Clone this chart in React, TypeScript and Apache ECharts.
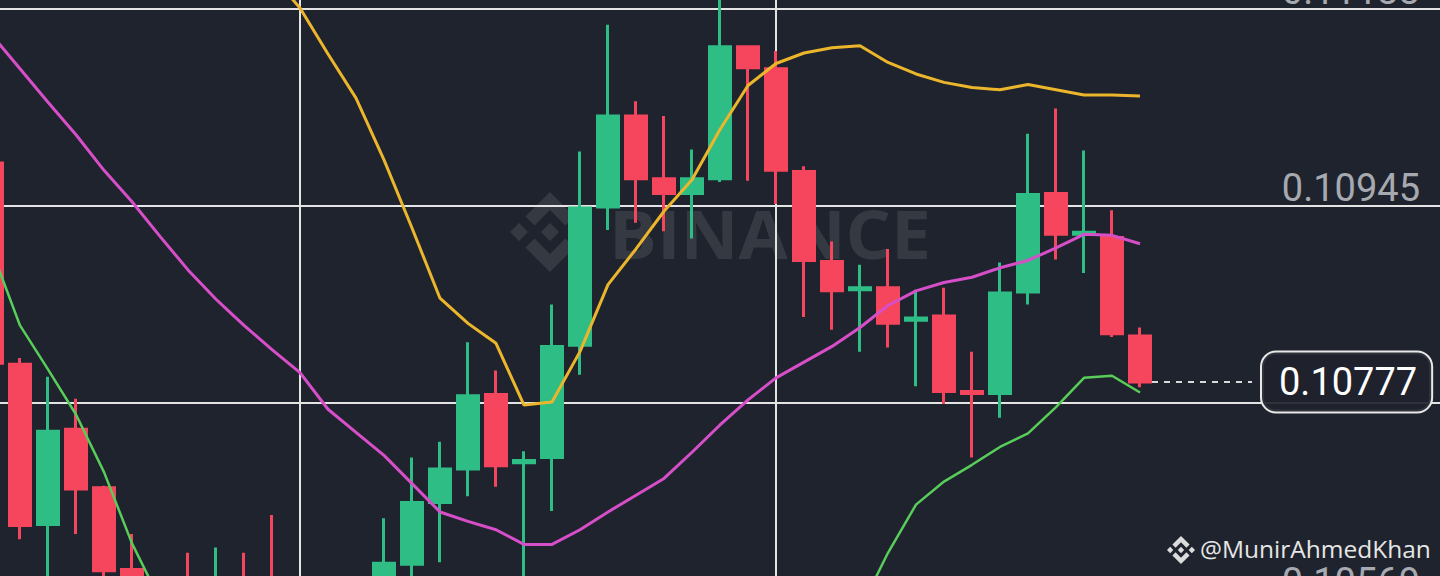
import React, { useEffect, useRef } from "react";
import * as echarts from "echarts";

// ---- data ----
const categories: string[] = Array.from({ length: 53 }, (_, i) => String(i));

const opens = [0.10986, 0.10794, 0.10641, 0.10732, 0.10676, 0.10598, 0.10572, 0.10566, 0.10556, 0.1057, 0.10575, 0.10548, 0.1056, 0.1057, 0.10585, 0.10603, 0.10662, 0.10694, 0.10765, 0.107, 0.10705, 0.10812, 0.10944, 0.11031, 0.10971, 0.10957, 0.10971, 0.11097, 0.11076, 0.10978, 0.10892, 0.10865, 0.10867, 0.10836, 0.1084, 0.10768, 0.10766, 0.10863, 0.10957, 0.10918, 0.10915, 0.10821];
const closes = [0.10795, 0.1064, 0.1073, 0.10675, 0.10597, 0.10565, 0.10562, 0.10556, 0.1057, 0.1056, 0.10558, 0.1056, 0.1057, 0.1058, 0.10604, 0.10662, 0.10694, 0.10764, 0.10697, 0.10702, 0.10811, 0.10943, 0.11031, 0.10971, 0.10957, 0.10971, 0.11097, 0.11077, 0.10979, 0.10893, 0.10864, 0.10867, 0.10833, 0.10838, 0.10768, 0.10766, 0.10862, 0.10956, 0.10918, 0.1092, 0.10823, 0.10777];
const highs = [0.1099, 0.108, 0.10782, 0.10761, 0.10678, 0.10632, 0.10585, 0.10614, 0.10619, 0.10614, 0.1065, 0.10585, 0.10588, 0.1059, 0.10647, 0.10705, 0.1072, 0.10815, 0.10788, 0.10711, 0.10851, 0.10997, 0.11118, 0.11045, 0.11031, 0.10999, 0.11151, 0.11098, 0.11093, 0.10983, 0.10911, 0.10889, 0.10904, 0.10865, 0.10867, 0.10806, 0.10891, 0.11014, 0.11038, 0.10998, 0.10941, 0.10829];
const lows = [0.1079, 0.10627, 0.1057, 0.10632, 0.10579, 0.1055, 0.10545, 0.1054, 0.10545, 0.10548, 0.1054, 0.1053, 0.10545, 0.10555, 0.10575, 0.10585, 0.10605, 0.10668, 0.10677, 0.1058, 0.10654, 0.10784, 0.10922, 0.10929, 0.10921, 0.10914, 0.10968, 0.10969, 0.10947, 0.10839, 0.10827, 0.10806, 0.1081, 0.10773, 0.10756, 0.10705, 0.10743, 0.10851, 0.10894, 0.10881, 0.1082, 0.10772];

const upperBand = [0.11311, 0.11328, 0.11313, 0.11304, 0.11285, 0.11269, 0.11247, 0.11228, 0.11208, 0.11189, 0.11165, 0.11134, 0.1109, 0.11048, 0.10989, 0.10924, 0.10857, 0.10833, 0.10814, 0.10755, 0.10758, 0.10806, 0.1087, 0.10904, 0.1094, 0.1097, 0.11018, 0.1106, 0.11081, 0.11091, 0.11096, 0.11098, 0.11082, 0.11071, 0.11063, 0.11058, 0.11056, 0.11061, 0.11056, 0.11051, 0.11051, 0.1105];
const middleBand = [0.11108, 0.11076, 0.11044, 0.11013, 0.10979, 0.10949, 0.10916, 0.10884, 0.10856, 0.10831, 0.10808, 0.10786, 0.10751, 0.10729, 0.10707, 0.1068, 0.10653, 0.10644, 0.10636, 0.10622, 0.10622, 0.10636, 0.10653, 0.10669, 0.10685, 0.1071, 0.10736, 0.1076, 0.10781, 0.10796, 0.10811, 0.10829, 0.1085, 0.10864, 0.10872, 0.10877, 0.10886, 0.10893, 0.10905, 0.10918, 0.10917, 0.10909];
const lowerBand = [0.10902, 0.10831, 0.10789, 0.10746, 0.10691, 0.10623, 0.10569, 0.10531, 0.10502, 0.10474, 0.10455, 0.10437, 0.10416, 0.10411, 0.10426, 0.10435, 0.10449, 0.10455, 0.10457, 0.1049, 0.10487, 0.10466, 0.10436, 0.10434, 0.10431, 0.10451, 0.10455, 0.1046, 0.1048, 0.10501, 0.10527, 0.1056, 0.10614, 0.1066, 0.10682, 0.10698, 0.10715, 0.10728, 0.10753, 0.10781, 0.10783, 0.10767];

const priceTicks = [0.11133, 0.10945, 0.10757, 0.10569];
// the 0.10757 tick label sits behind the last-price box in the picture
const hiddenTickLabels = [0.10757];
const verticalGridIdx = [11, 28];
const lastPrice = 0.10777;
const lastPriceLabel = "0.10777";
const watermarkText = "BINANCE";
const signatureText = "@MunirAhmedKhan";

const Y_MIN = 0.105537;
const Y_MAX = 0.111416;

const BG = "#1f232d";
const UP = "#2ebd85";
const DOWN = "#f6465d";

// chart canvas is shifted left by this many pixels (first candle is cut by the page edge)
const SHIFT = 22;

const LOGO_PATH =
  "M16.624 13.9202l2.7175 2.7154-7.353 7.353-7.353-7.352 2.7175-2.7164 4.6355 4.6595 4.6356-4.6595zm4.6366-4.6366L24 12l-2.7154 2.7164L18.5682 12l2.6924-2.7164zm-9.272.001l2.7163 2.6914-2.7164 2.7174v-.001L9.2721 12l2.7164-2.7154zm-9.2722-.001L5.4088 12l-2.6914 2.6924L0 12l2.7164-2.7164zM11.9885.0115l7.353 7.329-2.7174 2.7154-4.6356-4.6356-4.6355 4.6595-2.7174-2.7154 7.353-7.353z";

let registered = false;
function ensureShape() {
  if (registered) return;
  echarts.graphic.registerShape("bnbLogo", (echarts.graphic as any).extendPath(LOGO_PATH, {}));
  registered = true;
}

export default function App() {
  const ref = useRef<HTMLDivElement>(null);
  useEffect(() => {
    if (!ref.current) return;
    ensureShape();
    const chart = echarts.init(ref.current, undefined, { renderer: "svg" });
    const candleData = opens.map((o, i) => [o, closes[i], lows[i], highs[i]]);

    const option: any = {
      animation: false,
      backgroundColor: BG,
      grid: { left: 0, right: 0, top: 0, bottom: 0 },
      xAxis: {
        type: "category",
        data: categories,
        boundaryGap: true,
        show: false,
      },
      yAxis: {
        type: "value",
        min: Y_MIN,
        max: Y_MAX,
        scale: true,
        show: false,
        splitLine: { show: false },
      },
      series: [
        {
          type: "candlestick",
          data: candleData,
          barWidth: 21,
          z: 2,
          itemStyle: {
            color: UP,
            color0: DOWN,
            borderColor: UP,
            borderColor0: DOWN,
            borderWidth: 3,
          },
          markLine: {
            silent: true,
            z: 1,
            precision: 5,
            symbol: ["none", "none"],
            lineStyle: { color: "#e4e4e4", width: 2, type: "solid" },
            label: {
              show: true,
              position: "insideEndTop",
              distance: -1,
              color: "#a6a9b0",
              fontSize: 38,
              fontFamily: "Roboto",
              padding: [0, 43, 0, 0],
            },
            emphasis: { disabled: true },
            data: [
              ...priceTicks.map((v) => ({
                yAxis: v,
                label: { show: !hiddenTickLabels.includes(v), formatter: v.toFixed(5) },
              })),
              ...verticalGridIdx.map((i) => ({ xAxis: i, label: { show: false } })),
            ],
          },
        },
        {
          type: "line",
          data: upperBand,
          symbol: "none",
          z: 3,
          lineStyle: { color: "#ecb62c", width: 3 },
        },
        {
          type: "line",
          data: middleBand,
          symbol: "none",
          z: 3,
          lineStyle: { color: "#d64fc8", width: 3 },
        },
        {
          type: "line",
          data: lowerBand,
          symbol: "none",
          z: 3,
          lineStyle: { color: "#58cd5a", width: 2.5 },
          markLine: {
            silent: true,
            z: 1,
            precision: 5,
            symbol: ["none", "none"],
            lineStyle: { color: "#d8d8d8", width: 2, type: [6, 6] },
            label: {
              show: true,
              position: "end",
              distance: 10,
              formatter: lastPriceLabel,
              color: "#ffffff",
              fontSize: 38,
              fontFamily: "Roboto",
              lineHeight: 44,
              backgroundColor: "rgba(31,35,45,0.92)",
              borderColor: "#e8e8e8",
              borderWidth: 2,
              borderRadius: 14,
              padding: [7, 14, 8, 17],
            },
            emphasis: { disabled: true },
            data: [[{ coord: [41, lastPrice] }, { coord: [45, lastPrice] }]],
          },
        },
      ],
      graphic: [
        {
          type: "bnbLogo",
          x: 510 + SHIFT,
          y: 192,
          scaleX: 80 / 24,
          scaleY: 80 / 24,
          z: 0,
          style: { fill: "rgba(255,255,255,0.1)" },
        },
        {
          type: "text",
          x: 770 + SHIFT,
          y: 234,
          z: 0,
          scaleX: 1.08,
          style: {
            text: watermarkText,
            align: "center",
            verticalAlign: "middle",
            textAlign: "center",
            textVerticalAlign: "middle",
            fontSize: 66,
            fontWeight: "bold",
            fontFamily: "Open Sans",
            fill: "rgba(255,255,255,0.1)",
          },
        },
        {
          type: "bnbLogo",
          x: 1167 + SHIFT,
          y: 536,
          scaleX: 28 / 24,
          scaleY: 28 / 24,
          z: 10,
          style: { fill: "#dcdcdc" },
        },
        {
          type: "text",
          x: 1200 + SHIFT,
          y: 548,
          z: 10,
          style: {
            text: signatureText,
            align: "left",
            verticalAlign: "middle",
            textAlign: "left",
            textVerticalAlign: "middle",
            fontSize: 24.5,
            fontFamily: "Open Sans",
            fill: "#e6e6e6",
          },
        },
      ],
    };
    chart.setOption(option);
    return () => chart.dispose();
  }, []);

  return (
    <div
      ref={ref}
      style={{ position: "fixed", left: -SHIFT, top: 0, width: 1440 + 2 * SHIFT, height: 616 }}
    />
  );
}
